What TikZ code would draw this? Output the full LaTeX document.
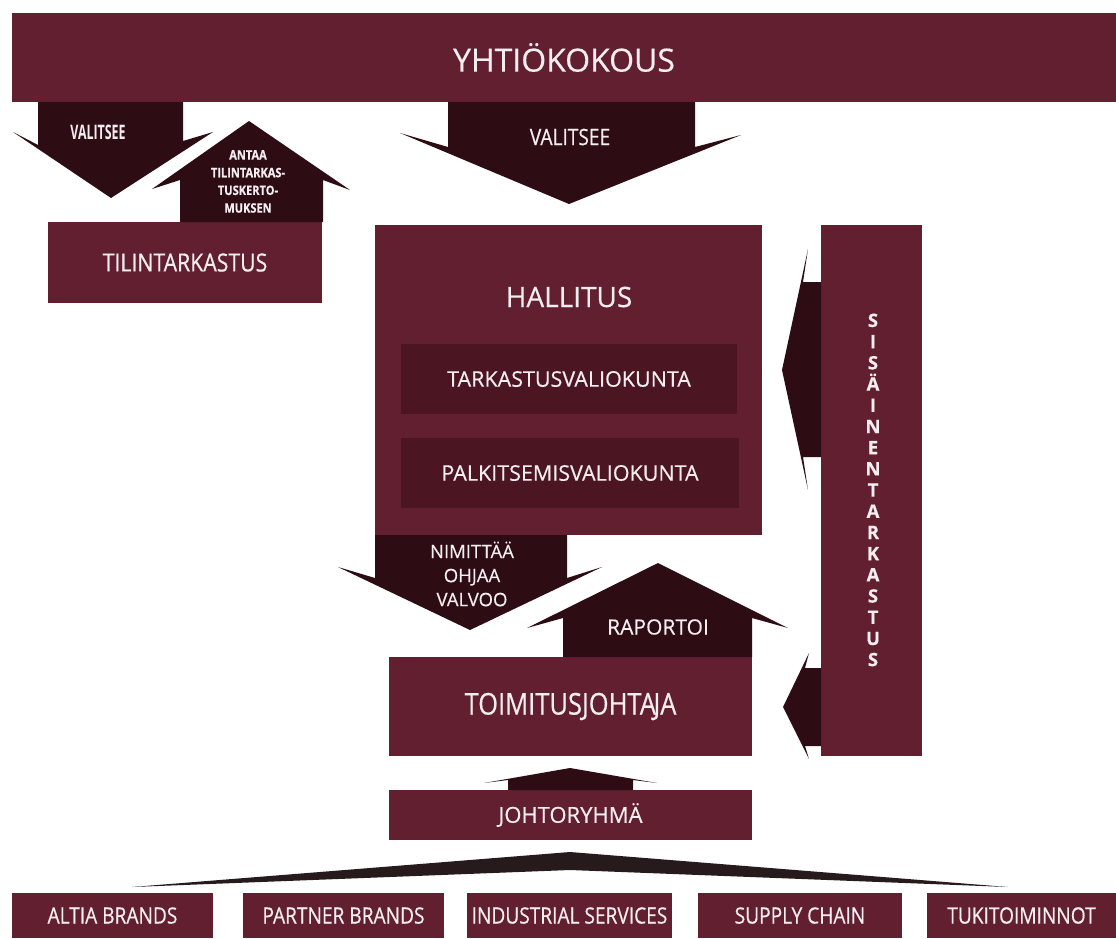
\documentclass[tikz,border=0pt]{standalone}
\usepackage{fontspec}
\setmainfont{Open Sans}[FakeBold=0.4]
\newfontfamily\narrowfont[FakeStretch=0.85,FakeBold=0.5]{Open Sans}
\newfontfamily\condfont[FakeStretch=0.62]{Open Sans}
\usetikzlibrary{positioning}

\definecolor{boxred}{HTML}{611F30}
\definecolor{innerred}{HTML}{4B1522}
\definecolor{arrowdark}{HTML}{2D0C14}
\definecolor{spreaddark}{HTML}{261A1D}
\definecolor{labelwhite}{HTML}{F4EEF0}

\begin{document}
\begin{tikzpicture}[x=1pt,y=-1pt,
  box/.style={fill=boxred,text=labelwhite,inner sep=0pt,outer sep=0pt,anchor=north west},
  inner box/.style={box,fill=innerred},
  unit box/.style={box,minimum height=45pt,font=\narrowfont\fontsize{22.5}{26}\selectfont},
  arrow shape/.style={fill=arrowdark},
  arrow label/.style={text=labelwhite,inner sep=0pt,align=center}]

  \useasboundingbox[fill=white] (0,0) rectangle (1116,938);

  % boxes
  \node[box,minimum width=1104pt,minimum height=89pt,font=\fontsize{32}{38}\selectfont] (yhtio) at (12,13) {YHTIÖKOKOUS};
  \node[box,minimum width=274pt,minimum height=81pt,font=\narrowfont\fontsize{25}{30}\selectfont] (tilin) at (48,222) {TILINTARKASTUS};
  \node[box,minimum width=387pt,minimum height=310pt] (hallitus) at (375,225) {};
  \node[arrow label,font=\fontsize{28}{32}\selectfont] (hallituslabel) at (569,297) {HALLITUS};
  \node[inner box,minimum width=336pt,minimum height=70pt,font=\fontsize{21.5}{26}\selectfont] (tarkv) at (401,344) {TARKASTUSVALIOKUNTA};
  \node[inner box,minimum width=338pt,minimum height=70pt,font=\fontsize{21.5}{26}\selectfont] (palkv) at (401,438) {PALKITSEMISVALIOKUNTA};
  \node[box,minimum width=363pt,minimum height=99pt,font=\narrowfont\fontsize{30}{36}\selectfont] (toim) at (389,657) {TOIMITUSJOHTA\kern-2.5pt JA};
  \node[box,minimum width=101pt,minimum height=531pt] (sisa) at (821,225) {};
  \node[arrow label,font=\bfseries\fontsize{18.5}{21.2}\selectfont] (sisalabel) at (873,490)
    {S\\I\\S\\Ä\\I\\N\\E\\N\\T\\A\\R\\K\\A\\S\\T\\U\\S};
  \node[box,minimum width=363pt,minimum height=50pt,font=\fontsize{22}{26}\selectfont] (johto) at (389,790) {JOHTORYHMÄ};

  \node[unit box,minimum width=201pt] (altia) at (12,893) {ALTIA BRANDS};
  \node[unit box,minimum width=201pt] (partner) at (243,893) {PARTNER BRANDS};
  \node[unit box,minimum width=205pt] (indust) at (467,893) {INDUSTRIAL SERVICES};
  \node[unit box,minimum width=204pt] (supply) at (698,893) {SUPPLY CHAIN};
  \node[unit box,minimum width=189pt] (tuki) at (927,893) {TUKITOIMINNOT};

  % block arrows
  \fill[arrow shape] (38,102) -- (38,145) -- (13,132) -- (111,198) -- (213,132) -- (183,141) -- (183,102) -- cycle;
  \fill[arrow shape] (180,222) -- (180,180) -- (152,189) -- (249,121) -- (350,190) -- (323,180) -- (323,222) -- cycle;
  \fill[arrow shape] (448,102) -- (448,147) -- (400,133) -- (569,204) -- (741,135) -- (695,147) -- (695,102) -- cycle;
  \fill[arrow shape] (375,535) -- (375,578) -- (338,567) -- (470,630) -- (602,567) -- (567,578) -- (567,535) -- cycle;
  \fill[arrow shape] (563,657) -- (563,618) -- (527,628) -- (658,563) -- (788,628) -- (752,618) -- (752,657) -- cycle;
  \fill[arrow shape] (821,282) -- (803,282) -- (808,249) -- (782,370) -- (808,490) -- (803,457) -- (821,457) -- cycle;
  \fill[arrow shape] (821,668) -- (805,668) -- (809,653) -- (783,707) -- (809,759) -- (805,746) -- (821,746) -- cycle;
  \fill[arrow shape] (508,790) -- (508,780) -- (484,783) -- (570,768) -- (657,783) -- (633,780) -- (633,790) -- cycle;
  \fill[spreaddark] (132,887) -- (570,852) -- (1008,887) -- (570,870) -- cycle;

  % arrow labels
  \node[arrow label,font=\condfont\bfseries\fontsize{20}{24}\selectfont] (valitsee1) at (98,132) {VALITSEE};
  \node[arrow label,font=\narrowfont\bfseries\fontsize{13}{17.7}\selectfont] (antaa) at (248,181.5)
    {ANTAA\\TILINTARKAS-\\TUSKERTO-\\MUKSEN};
  \node[arrow label,font=\narrowfont\fontsize{22.5}{26}\selectfont] (valitsee2) at (570,137) {VALITSEE};
  \node[arrow label,font=\fontsize{18.5}{24}\selectfont] (nimittaa) at (472,574)
    {NIMITTÄÄ\\OHJAA\\VALVOO};
  \node[arrow label,font=\fontsize{21}{24}\selectfont] (raportoi) at (658,627) {RAPORTOI};
\end{tikzpicture}
\end{document}
